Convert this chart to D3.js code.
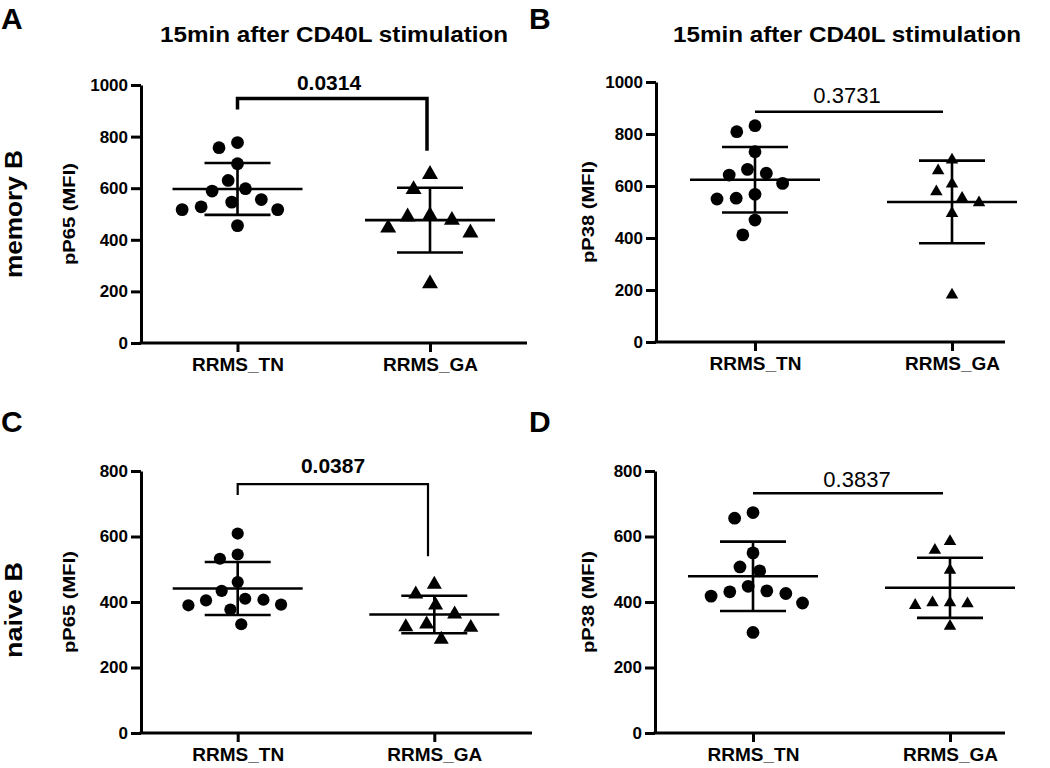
<!DOCTYPE html>
<html>
<head>
<meta charset="utf-8">
<script src="https://cdn.jsdelivr.net/npm/d3@7"></script>
<style>
  html, body { margin: 0; padding: 0; background: #fff; }
  svg { display: block; font-family: "Liberation Sans", Arial, Helvetica, sans-serif; }
</style>
</head>
<body>
<svg id="chart" width="1050" height="768"></svg>
<script>
// ---------------- DATA ----------------
const categories = ["RRMS_TN", "RRMS_GA"];
const chartTitle = "15min after CD40L stimulation";
const rowLabels = ["memory B", "naive B"];
const yAxisLabels = ["pP65 (MFI)", "pP38 (MFI)"];
const ticksMemory = [0, 200, 400, 600, 800, 1000];
const ticksNaive = [0, 200, 400, 600, 800];
const pValues = ["0.0314", "0.3731", "0.0387", "0.3837"];

// memory B, pP65
const memP65_TN = [777, 757, 695, 630, 598, 589, 556, 546, 528, 517, 517, 455];
const memP65_GA = [654, 595, 494, 489, 476, 446, 427, 230];
// memory B, pP38
const memP38_TN = [832, 809, 732, 664, 649, 642, 610, 568, 553, 550, 469, 412];
const memP38_GA = [700, 659, 608, 578, 553, 536, 495, 181];
// naive B, pP65
const naiveP65_TN = [609, 545, 532, 461, 434, 410, 407, 405, 392, 390, 377, 332];
const naiveP65_GA = [454, 424, 390, 363, 332, 324, 322, 286];
// naive B, pP38
const naiveP38_TN = [673, 656, 550, 507, 495, 448, 434, 431, 426, 418, 397, 307];
const naiveP38_GA = [585, 558, 497, 398, 398, 395, 390, 326];

// ---------------- LAYOUT ----------------
const panels = [
  { letter: "A", left: 141, right: 527, y0: 343, yTop: 85, max: 1000, ticks: ticksMemory,
    xr: [237.5, 430], tn: memP65_TN, ga: memP65_GA, ylab: yAxisLabels[0], ylabX: 71,
    letterX: 1, letterY: 29, titleX: 334, p: pValues[0], pBold: true, pX: 329, pY: 90,
    bracket: { legs: true, top: 948, l: 905, r: 745, sw: 3.5, rx: 427 }, cr: 6.4, tri: 16 },
  { letter: "B", left: 656, right: 1005, y0: 342, yTop: 82, max: 1000, ticks: ticksMemory,
    xr: [755, 952], tn: memP38_TN, ga: memP38_GA, ylab: yAxisLabels[1], ylabX: 590,
    letterX: 529, letterY: 29, titleX: 847, p: pValues[1], pBold: false, pX: 847, pY: 103,
    bracket: { legs: false, top: 886, sw: 2.5, rx: 943 }, cr: 6.4, tri: 12.5 },
  { letter: "C", left: 141, right: 532, y0: 733, yTop: 471, max: 800, ticks: ticksNaive,
    xr: [237.7, 434.3], tn: naiveP65_TN, ga: naiveP65_GA, ylab: yAxisLabels[0], ylabX: 71,
    letterX: 1, letterY: 432, p: pValues[2], pBold: true, pX: 333, pY: 473,
    bracket: { legs: true, top: 760, l: 727, r: 540, sw: 2.2, rx: 428 }, cr: 6.1, tri: 15 },
  { letter: "D", left: 655, right: 1005, y0: 733, yTop: 471, max: 800, ticks: ticksNaive,
    xr: [753, 950], tn: naiveP38_TN, ga: naiveP38_GA, ylab: yAxisLabels[1], ylabX: 590,
    letterX: 529, letterY: 432, p: pValues[3], pBold: false, pX: 857, pY: 487,
    bracket: { legs: false, top: 732, sw: 2.5, rx: 943 }, cr: 6.4, tri: 12.5 }
];

const svg = d3.select("#chart");

// beeswarm placement (horizontal spread of column scatter)
function swarm(values, y, cx, d) {
  const placed = [];
  return values.map(v => {
    const py = y(v);
    const iv = placed.filter(p => Math.abs(p.y - py) < d)
      .map(p => { const w = Math.sqrt(d * d - (p.y - py) ** 2); return [p.x - w, p.x + w]; });
    let c = [cx];
    iv.forEach(i => c.push(i[0], i[1]));
    c = c.filter(x => iv.every(i => x <= i[0] + 1e-6 || x >= i[1] - 1e-6));
    c.sort((a, b) => Math.abs(a - cx) - Math.abs(b - cx) || a - b);
    placed.push({ x: c[0], y: py });
    return { v, x: c[0], y: py };
  });
}

panels.forEach((P, i) => {
  const g = svg.append("g");
  const y = d3.scaleLinear().domain([0, P.max]).range([P.y0, P.yTop]);
  const x = d3.scalePoint().domain(categories).range(P.xr);

  // y axis
  const ya = g.append("g").attr("transform", `translate(${P.left},0)`)
    .call(d3.axisLeft(y).tickValues(P.ticks).tickSize(10).tickSizeOuter(0).tickPadding(3).tickFormat(d3.format("d")));
  ya.selectAll("path,line").attr("stroke", "#000").attr("stroke-width", 3);
  ya.selectAll("text").attr("font-size", 17).attr("font-weight", "bold").attr("fill", "#000")
    .attr("font-family", "Liberation Sans, Arial, sans-serif");

  // x axis
  g.append("line").attr("x1", P.left - 1.5).attr("x2", P.right).attr("y1", P.y0).attr("y2", P.y0)
    .attr("stroke", "#000").attr("stroke-width", 3);
  const xa = g.append("g").attr("transform", `translate(0,${P.y0})`)
    .call(d3.axisBottom(x).tickSize(9).tickPadding(6));
  xa.select(".domain").remove();
  xa.selectAll("line").attr("stroke", "#000").attr("stroke-width", 3);
  xa.selectAll("text").attr("font-size", 19).attr("font-weight", "bold").attr("fill", "#000")
    .attr("font-family", "Liberation Sans, Arial, sans-serif");

  // y axis label
  g.append("text").attr("transform", `translate(${P.ylabX},${(P.y0 + P.yTop) / 2}) rotate(-90)`)
    .attr("text-anchor", "middle").attr("dominant-baseline", "middle")
    .attr("font-size", 17).attr("font-weight", "bold")
    .attr("textLength", 102).attr("lengthAdjust", "spacingAndGlyphs")
    .text(P.ylab);

  // panel letter
  g.append("text").attr("x", P.letterX).attr("y", P.letterY)
    .attr("font-size", 30).attr("font-weight", "bold").text(P.letter);

  // title
  if (P.titleX) {
    g.append("text").attr("x", P.titleX).attr("y", 42).attr("text-anchor", "middle")
      .attr("font-size", 22).attr("font-weight", "bold")
      .attr("textLength", 348).attr("lengthAdjust", "spacingAndGlyphs")
      .text(chartTitle);
  }

  // groups: mean ± SD + points
  const groups = [P.tn, P.ga];
  groups.forEach((vals, gi) => {
    const cx = x(categories[gi]);
    const m = d3.mean(vals), sd = d3.deviation(vals);
    const lines = g.append("g").attr("stroke", "#000").attr("stroke-width", 2.6);
    lines.append("line").attr("x1", cx - 65).attr("x2", cx + 65).attr("y1", y(m)).attr("y2", y(m));
    lines.append("line").attr("x1", cx - 33).attr("x2", cx + 33).attr("y1", y(m + sd)).attr("y2", y(m + sd));
    lines.append("line").attr("x1", cx - 33).attr("x2", cx + 33).attr("y1", y(m - sd)).attr("y2", y(m - sd));
    lines.append("line").attr("x1", cx).attr("x2", cx).attr("y1", y(m + sd)).attr("y2", y(m - sd));

    if (gi === 0) {
      const pts = swarm(vals, y, cx, P.cr * 2 * 1.5);
      g.append("g").selectAll("circle").data(pts).join("circle")
        .attr("cx", d => d.x).attr("cy", d => d.y).attr("r", P.cr).attr("fill", "#000");
    } else {
      const s = P.tri;
      const area = s * s * Math.sqrt(3) / 4;
      const pts = swarm(vals, y, cx, s * 1.4);
      g.append("g").selectAll("path").data(pts).join("path")
        .attr("transform", d => `translate(${d.x},${d.y})`)
        .attr("d", d3.symbol(d3.symbolTriangle, area)).attr("fill", "#000");
    }
  });

  // significance bracket
  const B = P.bracket;
  const xl = x(categories[0]);
  let path;
  if (B.legs) {
    path = `M${xl},${y(B.l)}V${y(B.top)}H${B.rx}V${y(B.r)}`;
  } else {
    path = `M${xl},${y(B.top)}H${B.rx}`;
  }
  g.append("path").attr("d", path).attr("fill", "none").attr("stroke", "#000")
    .attr("stroke-width", B.sw);
  g.append("text").attr("x", P.pX).attr("y", P.pY).attr("text-anchor", "middle")
    .attr("font-size", P.pBold ? 21 : 22).attr("font-weight", P.pBold ? "bold" : "normal")
    .text(P.p);
});

// row labels
svg.append("text").attr("transform", "translate(16,214) rotate(-90)")
  .attr("text-anchor", "middle").attr("dominant-baseline", "middle")
  .attr("font-size", 24).attr("font-weight", "bold")
  .attr("textLength", 128).attr("lengthAdjust", "spacingAndGlyphs")
  .text(rowLabels[0]);
svg.append("text").attr("transform", "translate(16,610) rotate(-90)")
  .attr("text-anchor", "middle").attr("dominant-baseline", "middle")
  .attr("font-size", 24).attr("font-weight", "bold")
  .attr("textLength", 96).attr("lengthAdjust", "spacingAndGlyphs")
  .text(rowLabels[1]);
</script>
</body>
</html>
